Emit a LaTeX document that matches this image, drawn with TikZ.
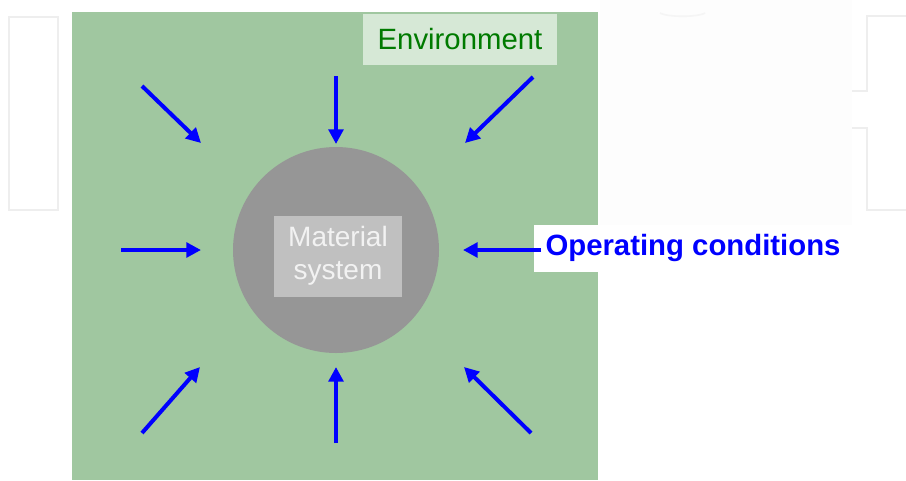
\documentclass[tikz,border=0pt]{standalone}
\usepackage{fontspec}
\setmainfont{Liberation Sans}
\usetikzlibrary{arrows.meta}
\definecolor{envbg}{RGB}{160,199,160}
\definecolor{envbox}{RGB}{214,232,214}
\definecolor{envtxt}{RGB}{0,122,0}
\definecolor{sysgray}{RGB}{150,150,150}
\definecolor{labgray}{RGB}{192,192,192}
\definecolor{labtxt}{RGB}{242,242,242}
\definecolor{arrblue}{RGB}{0,0,255}
\definecolor{ghost}{RGB}{238,238,238}
\definecolor{offwhite}{RGB}{253,253,253}
\tikzset{
  inarrow/.style={draw=arrblue, line width=3pt, -{Triangle[length=11pt,width=11pt]}},
  ghostline/.style={draw=ghost, line width=2.2pt},
}
\begin{document}
\begin{tikzpicture}[x=0.75pt,y=-0.75pt]
\useasboundingbox (0,0) rectangle (906,480);
\fill[white] (0,0) rectangle (906,480);
% faint background shapes
\fill[offwhite] (600,0) rectangle (852,226);
\draw[ghostline] (9,17) rectangle (58,210);
\draw[ghostline] (906,16) -- (867,16) -- (867,91) -- (852,91);
\draw[ghostline] (852,128) -- (867,128) -- (867,210) -- (906,210);
\draw[ghost!60!white, line width=1.2pt] (660,13) arc[start angle=160, end angle=20, x radius=24, y radius=5];
% environment field
\fill[envbg] (72,12) rectangle (598,480);
% nodes
\node[circle, fill=sysgray, minimum size=206*0.75pt, inner sep=0pt] (sys) at (336,250) {};
\node[fill=labgray, minimum width=128*0.75pt, minimum height=81*0.75pt, align=center,
      text=labtxt, font=\fontsize{21}{25}\selectfont, inner sep=0pt] (lab) at (338,256) {Material\\system};
\node[fill=envbox, minimum width=194*0.75pt, minimum height=51*0.75pt, inner sep=0pt,
      text=envtxt, font=\fontsize{22}{26}\selectfont] (env) at (460,39) {Environment};
\node[fill=white, minimum width=318*0.75pt, minimum height=47*0.75pt, inner sep=0pt,
      text=arrblue, font=\fontsize{22}{26}\selectfont\bfseries] (op) at (693,248) {Operating conditions};
% arrow ends
\coordinate (t1) at (142,86);  \coordinate (h1) at (201,143);
\coordinate (t2) at (336,76);  \coordinate (h2) at (336,144);
\coordinate (t3) at (533,77);  \coordinate (h3) at (465,143);
\coordinate (t4) at (121,250); \coordinate (h4) at (201,250);
\coordinate (t5) at (541,250); \coordinate (h5) at (463,250);
\coordinate (t6) at (142,433); \coordinate (h6) at (200,367);
\coordinate (t7) at (336,443); \coordinate (h7) at (336,367);
\coordinate (t8) at (531,433); \coordinate (h8) at (464,367);
\foreach \i in {1,...,8} \draw[inarrow] (t\i) -- (h\i);
\end{tikzpicture}
\end{document}
